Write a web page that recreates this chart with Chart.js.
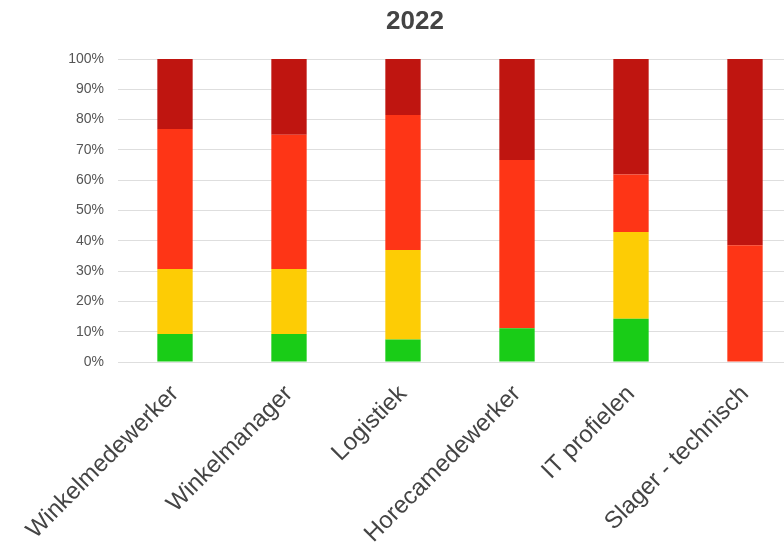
<!DOCTYPE html>
<html>
<head>
<meta charset="utf-8">
<script src="https://cdn.jsdelivr.net/npm/chart.js@4/dist/chart.umd.min.js"></script>
<style>
html,body{margin:0;padding:0;background:#fff;overflow:hidden;width:784px;height:544px;}
#wrap{position:relative;width:830px;height:544px;}
</style>
</head>
<body>
<div id="wrap"><canvas id="c" width="830" height="544"></canvas></div>
<script>
const title = "2022";
const categories = ["Winkelmedewerker", "Winkelmanager", "Logistiek", "Horecamedewerker", "IT profielen", "Slager - technisch"];
const greenValues = [9.2, 9.2, 7.4, 11.1, 14.3, 0];
const yellowValues = [21.5, 21.5, 29.6, 0, 28.6, 0];
const orangeValues = [46.2, 44.3, 44.5, 55.6, 19.0, 38.5];
const darkRedValues = [23.1, 25.0, 18.5, 33.3, 38.1, 61.5];
const yTicks = [0, 10, 20, 30, 40, 50, 60, 70, 80, 90, 100];

const FONT = "'Liberation Sans', Arial, sans-serif";

new Chart(document.getElementById('c'), {
  type: 'bar',
  data: {
    labels: categories,
    datasets: [
      { label: 'Groen', data: greenValues, backgroundColor: '#19cc17' },
      { label: 'Geel', data: yellowValues, backgroundColor: '#fdcc05' },
      { label: 'Oranje', data: orangeValues, backgroundColor: '#fe3516' },
      { label: 'Rood', data: darkRedValues, backgroundColor: '#bf1510' }
    ]
  },
  options: {
    responsive: false,
    animation: false,
    devicePixelRatio: 1,
    layout: { padding: { left: 28, right: 28, top: 0, bottom: 0 } },
    datasets: { bar: { categoryPercentage: 1.0, barPercentage: 0.31 } },
    plugins: {
      legend: { display: false },
      tooltip: { enabled: false },
      title: {
        display: true,
        text: title,
        color: '#444',
        font: { family: FONT, size: 26, weight: 'bold' },
        padding: { top: 6.5, bottom: 21.3 }
      }
    },
    scales: {
      x: {
        stacked: true,
        grid: { display: false, drawTicks: false },
        border: { display: false },
        ticks: {
          autoSkip: false,
          minRotation: 45,
          maxRotation: 45,
          padding: 18,
          color: '#444',
          font: { family: FONT, size: 24 }
        },
        afterFit: (s) => { s.height = 544 - 362; }
      },
      y: {
        stacked: true,
        min: 0,
        max: 100,
        afterBuildTicks: (s) => { s.ticks = yTicks.map(v => ({ value: v })); },
        grid: { color: '#dedede', lineWidth: 1, drawTicks: false },
        border: { display: false },
        ticks: {
          padding: 14,
          color: '#555',
          font: { family: FONT, size: 14 },
          callback: (v) => v + '%'
        },
        afterFit: (s) => { s.width = 90; }
      }
    }
  }
});
</script>
</body>
</html>
